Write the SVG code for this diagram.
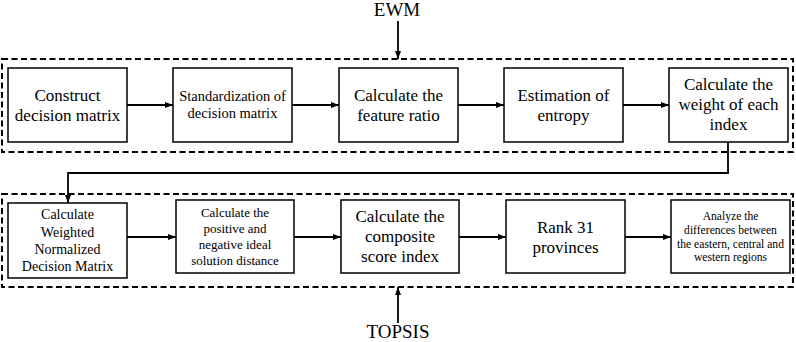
<svg xmlns="http://www.w3.org/2000/svg" width="796" height="342" viewBox="0 0 796 342">
<style>
.box{fill:#fff;stroke:#000;stroke-width:1.5}
.dash{fill:none;stroke:#000;stroke-width:2;stroke-dasharray:6 3.5}
.conn{fill:none;stroke:#000;stroke-width:1.8}
.t17{font-size:17px}
.t19{font-size:19px}
</style>
<defs>
<marker id="ah" viewBox="0 0 8 6" refX="8" refY="3" markerWidth="8" markerHeight="6" markerUnits="userSpaceOnUse" orient="auto">
<path d="M0,0 L8,3 L0,6 z" fill="#000"/>
</marker>
</defs>
<rect class="dash" x="2" y="59" width="791" height="93"/>
<rect class="dash" x="2" y="194" width="791" height="93"/>
<g font-family="Liberation Serif, Times New Roman, DejaVu Serif, serif" text-anchor="middle" fill="#000">
<text class="t19" x="397" y="16">EWM</text>
<text class="t19" x="398" y="338">TOPSIS</text>
<g id="n1"><rect class="box" x="8" y="68" width="119" height="74"/><text class="t17" x="67.5" y="100.7">Construct</text><text class="t17" x="67.5" y="120.7">decision matrix</text></g>
<g id="n2"><rect class="box" x="173" y="68" width="119" height="74"/><text style="font-size:14.5px" x="232.5" y="101">Standardization of</text><text style="font-size:14.5px" x="232.5" y="118">decision matrix</text></g>
<g id="n3"><rect class="box" x="339" y="68" width="119" height="74"/><text class="t17" x="398.5" y="100.7">Calculate the</text><text class="t17" x="398.5" y="120.7">feature ratio</text></g>
<g id="n4"><rect class="box" x="504" y="68" width="119" height="74"/><text class="t17" x="563.5" y="100.7">Estimation of</text><text class="t17" x="563.5" y="120.7">entropy</text></g>
<g id="n5"><rect class="box" x="669" y="68" width="119" height="74"/><text class="t17" x="728.5" y="90">Calculate the</text><text class="t17" x="728.5" y="110">weight of each</text><text class="t17" x="728.5" y="130">index</text></g>
<g id="n6"><rect class="box" x="8" y="203" width="119" height="75"/><text style="font-size:14px" x="67.5" y="219">Calculate</text><text style="font-size:14px" x="67.5" y="236.5">Weighted</text><text style="font-size:14px" x="67.5" y="254">Normalized</text><text style="font-size:14px" x="67.5" y="271">Decision Matrix</text></g>
<g id="n7"><rect class="box" x="176" y="200" width="118" height="73"/><text style="font-size:13px" x="235" y="217">Calculate the</text><text style="font-size:13px" x="235" y="233">positive and</text><text style="font-size:13px" x="235" y="249">negative ideal</text><text style="font-size:13px" x="235" y="264.5">solution distance</text></g>
<g id="n8"><rect class="box" x="341" y="200" width="118" height="73"/><text class="t17" x="400" y="222">Calculate the</text><text class="t17" x="400" y="242">composite</text><text class="t17" x="400" y="262">score index</text></g>
<g id="n9"><rect class="box" x="506" y="200" width="119" height="73"/><text class="t17" x="565.5" y="233">Rank 31</text><text class="t17" x="565.5" y="253">provinces</text></g>
<g id="n10"><rect class="box" x="671" y="200" width="119" height="73"/><text style="font-size:11.6px" x="730.5" y="220">Analyze the</text><text style="font-size:11.6px" x="730.5" y="234">differences between</text><text style="font-size:11.6px" x="730.5" y="247.5">the eastern, central and</text><text style="font-size:11.6px" x="730.5" y="261">western regions</text></g>
</g>
<g id="connectors">
<line class="conn" x1="398" y1="21" x2="398" y2="59" marker-end="url(#ah)"/>
<line class="conn" x1="127" y1="105" x2="173" y2="105" marker-end="url(#ah)"/>
<line class="conn" x1="292" y1="105" x2="339" y2="105" marker-end="url(#ah)"/>
<line class="conn" x1="458" y1="105" x2="504" y2="105" marker-end="url(#ah)"/>
<line class="conn" x1="623" y1="105" x2="669" y2="105" marker-end="url(#ah)"/>
<path class="conn" d="M728,142 V173 H68 V203" marker-end="url(#ah)"/>
<line class="conn" x1="127" y1="237" x2="176" y2="237" marker-end="url(#ah)"/>
<line class="conn" x1="294" y1="237" x2="341" y2="237" marker-end="url(#ah)"/>
<line class="conn" x1="459" y1="237" x2="506" y2="237" marker-end="url(#ah)"/>
<line class="conn" x1="625" y1="237" x2="671" y2="237" marker-end="url(#ah)"/>
<line class="conn" x1="398" y1="323" x2="398" y2="287" marker-end="url(#ah)"/>
</g>
</svg>
